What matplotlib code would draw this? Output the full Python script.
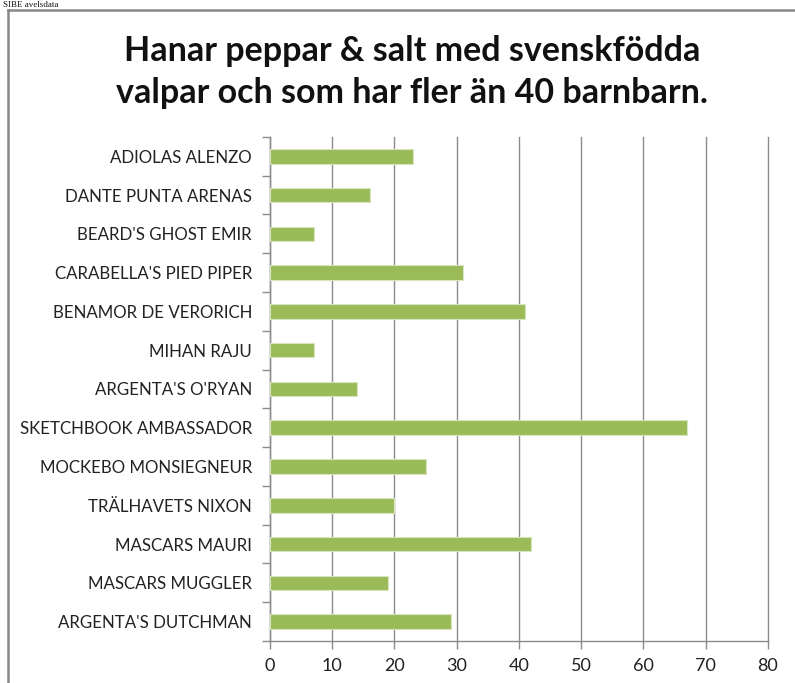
import matplotlib.pyplot as plt
from matplotlib.lines import Line2D
import numpy as np

# top to bottom as in the chart
names = [
    "ADIOLAS ALENZO",
    "DANTE PUNTA ARENAS",
    "BEARD'S GHOST EMIR",
    "CARABELLA'S PIED PIPER",
    "BENAMOR DE VERORICH",
    "MIHAN RAJU",
    "ARGENTA'S O'RYAN",
    "SKETCHBOOK AMBASSADOR",
    "MOCKEBO MONSIEGNEUR",
    "TRÄLHAVETS NIXON",
    "MASCARS MAURI",
    "MASCARS MUGGLER",
    "ARGENTA'S DUTCHMAN",
]
grandkids = [23, 16, 7, 31, 41, 7, 14, 67, 25, 20, 42, 19, 29]
xticks = [0, 10, 20, 30, 40, 50, 60, 70, 80]

plt.rcParams["font.family"] = ["Lato", "DejaVu Sans"]

fig = plt.figure(figsize=(7.95, 6.83), dpi=100)
ax = fig.add_axes([0.3396, 0.0615, 0.6264, 0.738])

y = np.arange(len(names))[::-1]
ax.barh(y, grandkids, height=0.375, color="#9BBB59", edgecolor="#d7e4bd", linewidth=0.8, zorder=3)

ax.set_xlim(0, 80)
ax.set_ylim(-0.5, len(names) - 0.5)
ax.set_xticks(xticks)
ax.set_xticklabels([str(t) for t in xticks], fontsize=13, color="#222222")
ax.set_yticks(y)
ax.set_yticklabels(names, fontsize=12.2, color="#222222")
ax.tick_params(axis="y", length=0, pad=13)
ax.set_yticks(np.arange(-0.5, len(names)), minor=True)
ax.tick_params(axis="y", which="minor", length=6, color="#8c8c8c", width=1)
ax.tick_params(axis="x", length=6, color="#8c8c8c", width=1, pad=6)

ax.grid(axis="x", color="#8c8c8c", linewidth=1, zorder=0)
for gl in ax.get_xgridlines():
    gl.set_clip_on(False)
for s in ["top", "right"]:
    ax.spines[s].set_visible(False)
for s in ["left", "bottom"]:
    ax.spines[s].set_color("#8c8c8c")
    ax.spines[s].set_linewidth(1)

fig.text(0.518, 0.894, "Hanar peppar & salt med svenskfödda\nvalpar och som har fler än 40 barnbarn.",
         ha="center", va="center", fontsize=24.5, fontweight="bold", linespacing=1.38, color="#111111")

# outer chart frame (cut off at right and bottom)
fx, fy = 7.5 / 795, 1 - 9.5 / 683
fig.add_artist(Line2D([fx, fx], [0, fy], transform=fig.transFigure, color="#888888", linewidth=1.8))
fig.add_artist(Line2D([fx, 1], [fy, fy], transform=fig.transFigure, color="#888888", linewidth=1.8))
fig.text(0.004, 0.999, "SIBE avelsdata", ha="left", va="top", fontsize=6.5,
         family=["Liberation Serif", "DejaVu Serif"], color="#111111")

fig.savefig("out.png", dpi=100)
